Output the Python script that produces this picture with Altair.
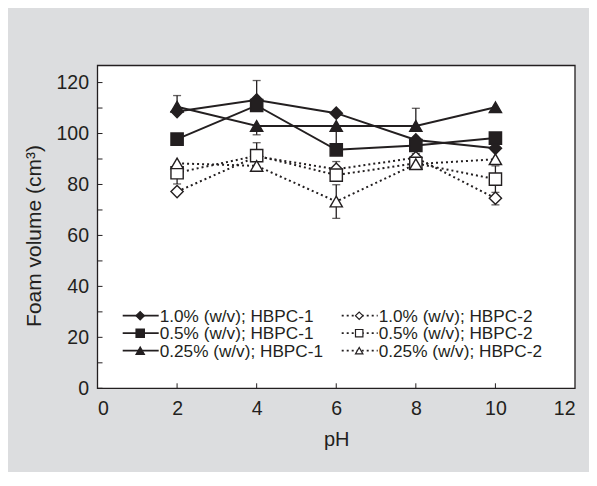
import altair as alt
import pandas as pd

# ---- data ----
pH = [2, 4, 6, 8, 10]
series = ["1.0% (w/v); HBPC-1", "0.5% (w/v); HBPC-1", "0.25% (w/v); HBPC-1",
          "1.0% (w/v); HBPC-2", "0.5% (w/v); HBPC-2", "0.25% (w/v); HBPC-2"]
h1_10 = [108.6, 113.2, 108.0, 97.5, 94.2]
h1_05 = [97.8, 111.0, 93.6, 95.3, 98.2]
h1_025 = [110.5, 103.0, 103.0, 103.0, 110.3]
h2_10 = [77.2, 91.0, 86.0, 90.5, 74.6]
h2_05 = [84.6, 91.3, 83.7, 88.3, 82.1]
h2_025 = [88.3, 87.3, 73.3, 88.0, 89.9]
values = [h1_10, h1_05, h1_025, h2_10, h2_05, h2_025]

# error bars: series index, pH, end value of the visible bar
err_series = [0, 0, 2, 4, 2, 4, 5, 5, 2, 4, 4, 4, 3, 4]
err_pH = [2, 4, 4, 4, 6, 6, 6, 6, 8, 8, 10, 10, 10, 2]
err_end = [114.9, 120.8, 99.5, 96.4, 95.0, 89.0, 66.7, 79.9, 109.9, 92.1, 87.3, 76.9, 72.0, 80.2]

y_ticks = [0, 20, 40, 60, 80, 100, 120]
y_minor = [0, 10, 20, 30, 40, 50, 60, 70, 80, 90, 100, 110, 120]
x_ticks = [0, 2, 4, 6, 8, 10, 12]
x_inner = [2, 4, 6, 8, 10]

shapes = ["diamond", "square", "triangle-up"]

# ---- tables ----
rows = []
for i, s in enumerate(series):
    for p, v in zip(pH, values[i]):
        rows.append({"series": s, "group": "HBPC-1" if i < 3 else "HBPC-2",
                     "conc": s.split(" ")[0], "pH": p, "volume": v, "order": i})
df = pd.DataFrame(rows)

erows = []
for si, p, e in zip(err_series, err_pH, err_end):
    start = values[si][pH.index(p)]
    erows.append({"pH": p, "volume": start, "end": e})
edf = pd.DataFrame(erows)

W, H = 477.5, 322.8
GRAY = "#dcdddf"
INK = "#231f20"
FONT = "Liberation Sans"

xs = alt.Scale(domain=[0, 12], nice=False)
ys = alt.Scale(domain=[0, 126.7], nice=False)

one = pd.DataFrame({"a": [0]})
plotbg = alt.Chart(one).mark_rect(color="white").encode(
    x=alt.value(0), x2=alt.value(W), y=alt.value(0), y2=alt.value(H))

X = alt.X("pH:Q", scale=xs,
          axis=alt.Axis(values=x_ticks, title="pH", labelPadding=11, titlePadding=12))
Y = alt.Y("volume:Q", scale=ys,
          axis=alt.Axis(values=y_ticks, title="Foam volume (cm³)", labelPadding=9,
                        titlePadding=11, titleY=170, titleFontSize=21))

lines_solid = alt.Chart(df[df.group == "HBPC-1"]).mark_line(color=INK, strokeWidth=2).encode(
    x=X, y=Y, detail="series:N", order="pH:Q")
lines_dot = alt.Chart(df[df.group == "HBPC-2"]).mark_line(
    color=INK, strokeWidth=2, strokeDash=[2, 3]).encode(
    x=alt.X("pH:Q", scale=xs), y=alt.Y("volume:Q", scale=ys), detail="series:N", order="pH:Q")

ebars = alt.Chart(edf).mark_rule(color=INK, strokeWidth=1.3).encode(
    x=alt.X("pH:Q", scale=xs), y=alt.Y("volume:Q", scale=ys), y2="end:Q")
ecaps = alt.Chart(edf).mark_tick(color=INK, orient="horizontal", size=8, thickness=1.3).encode(
    x=alt.X("pH:Q", scale=xs), y=alt.Y("end:Q", scale=ys))

points = alt.Chart(df).mark_point(filled=True, stroke=INK, strokeWidth=1.4, size=150,
                                  opacity=1).encode(
    x=alt.X("pH:Q", scale=xs), y=alt.Y("volume:Q", scale=ys),
    shape=alt.Shape("conc:N", scale=alt.Scale(domain=["1.0%", "0.5%", "0.25%"], range=shapes),
                    legend=None),
    fill=alt.Fill("group:N", scale=alt.Scale(domain=["HBPC-1", "HBPC-2"], range=[INK, "white"]),
                  legend=None),
    order="order:Q")

yt = alt.Chart(pd.DataFrame({"volume": y_minor})).mark_rule(color=INK, strokeWidth=1).encode(
    y=alt.Y("volume:Q", scale=ys), x=alt.value(0), x2=alt.value(5))
xt = alt.Chart(pd.DataFrame({"pH": x_inner})).mark_rule(color=INK, strokeWidth=1).encode(
    x=alt.X("pH:Q", scale=xs), y=alt.value(H), y2=alt.value(H - 5))

frame = alt.Chart(one).mark_rect(fillOpacity=0, stroke=INK, strokeWidth=1.3).encode(
    x=alt.value(0), x2=alt.value(W), y=alt.value(0), y2=alt.value(H))

# ---- legend (drawn by hand: two columns of line + marker + label) ----
legend_layers = []
for i, s in enumerate(series):
    col, row = divmod(i, 3)
    ly = 250.2 + row * 17.5
    x0 = 25.2 + col * 219
    lab = pd.DataFrame({"label": [s]})
    rule_kw = dict(color=INK, strokeWidth=1.8)
    if col == 1:
        rule_kw["strokeDash"] = [2, 3]
    legend_layers.append(alt.Chart(lab).mark_rule(**rule_kw).encode(
        x=alt.value(x0), x2=alt.value(x0 + 36), y=alt.value(ly)))
    legend_layers.append(alt.Chart(lab).mark_point(
        shape=shapes[row], filled=True, fill=INK if col == 0 else "white",
        stroke=INK, strokeWidth=1.2, size=70 if col == 0 else 55, opacity=1).encode(
        x=alt.value(x0 + 17.5), y=alt.value(ly)))
    legend_layers.append(alt.Chart(lab).mark_text(
        align="left", baseline="middle", font=FONT, fontSize=17.2, color=INK).encode(
        x=alt.value(x0 + 37), y=alt.value(ly + 1), text="label:N"))

chart = alt.layer(plotbg, lines_solid, lines_dot, ebars, ecaps, points, yt, xt, frame,
                  *legend_layers).properties(
    width=W, height=H,
    padding={"left": 89.5, "top": 57.5, "right": 14, "bottom": 84},
    autosize=alt.AutoSizeParams(type="none"),
).configure(background=GRAY).configure_view(stroke=None, fill=None).configure_axis(
    domain=False, ticks=False, grid=False,
    labelFont=FONT, labelFontSize=19.5, labelColor=INK,
    titleFont=FONT, titleFontSize=20, titleFontWeight="normal", titleColor=INK)

chart.save("out.html", embed_options={"renderer": "svg", "actions": False})
